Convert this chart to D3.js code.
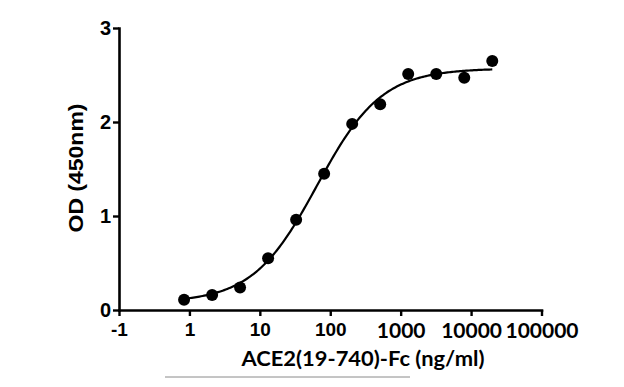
<!DOCTYPE html>
<html>
<head>
<meta charset="utf-8">
<script src="https://cdn.jsdelivr.net/npm/d3@7"></script>
<style>
  body { margin: 0; background: #fff; }
  svg { display: block; }
</style>
</head>
<body>
<div id="chart"></div>
<script>
// ELISA binding data (2.5-fold dilutions)
var concentrations = [0.84, 2.1, 5.24, 13.1, 32.77, 81.92, 204.8, 512, 1280, 3200, 8000, 20000];
var odValues = [0.11, 0.16, 0.24, 0.55, 0.96, 1.45, 1.98, 2.19, 2.51, 2.51, 2.47, 2.65];

// four parameter logistic fit: bottom, top, EC50, hill slope
var fitParams = [0.08, 2.57, 65, 0.95];

var xTickValues = [0.1, 1, 10, 100, 1000, 10000, 100000];
var xTickLabels = ["-1", "1", "10", "100", "1000", "10000", "100000"];
var yTickValues = [0, 1, 2, 3];

var width = 624, height = 387;

var svg = d3.select("#chart").append("svg")
    .attr("width", width)
    .attr("height", height);

var x = d3.scaleLog().domain([0.1, 100000]).range([119, 541.5]);
var y = d3.scaleLinear().domain([0, 3]).range([310, 28]);

// x axis
var xAxis = svg.append("g")
    .attr("transform", "translate(0," + y(0) + ")")
    .call(d3.axisBottom(x)
        .tickValues(xTickValues)
        .tickSize(6)
        .tickSizeOuter(0)
        .tickPadding(7)
        .tickFormat(function(d, i) { return xTickLabels[i]; }));

xAxis.select(".domain").style("stroke", "#000").style("stroke-width", "2.6px").style("stroke-linecap", "square");
xAxis.selectAll(".tick line").style("stroke", "#000").style("stroke-width", "2.4px");
xAxis.selectAll(".tick text")
    .style("fill", "#000")
    .style("font-family", function(d) { return d >= 1000 ? "Lato, 'Open Sans', sans-serif" : "'Liberation Sans', Arial, sans-serif"; })
    .style("font-weight", "bold")
    .style("font-size", function(d) { return d >= 1000 ? "21px" : "19px"; });

// y axis
var yAxis = svg.append("g")
    .attr("transform", "translate(" + x(0.1) + ",0)")
    .call(d3.axisLeft(y)
        .tickValues(yTickValues)
        .tickSize(6)
        .tickSizeOuter(0)
        .tickPadding(2)
        .tickFormat(d3.format("d")));

yAxis.select(".domain").style("stroke", "#000").style("stroke-width", "2.6px").style("stroke-linecap", "square");
yAxis.selectAll(".tick line").style("stroke", "#000").style("stroke-width", "2.4px");
yAxis.selectAll(".tick text")
    .style("fill", "#000")
    .style("font-family", "'Liberation Sans', Arial, sans-serif")
    .style("font-weight", "bold")
    .style("font-size", "20px");

// fitted curve
function logistic(c) {
    var bottom = fitParams[0], top = fitParams[1], ec50 = fitParams[2], hill = fitParams[3];
    return bottom + (top - bottom) / (1 + Math.pow(ec50 / c, hill));
}
var lo = Math.log10(concentrations[0]), hi = Math.log10(concentrations[concentrations.length - 1]);
var curvePts = d3.range(0, 201).map(function(i) {
    var c = Math.pow(10, lo + (hi - lo) * i / 200);
    return [c, logistic(c)];
});

svg.append("path")
    .datum(curvePts)
    .attr("d", d3.line().x(function(d) { return x(d[0]); }).y(function(d) { return y(d[1]); }))
    .style("fill", "none")
    .style("stroke", "#000")
    .style("stroke-width", "2.2px");

// data points
svg.selectAll("circle.pt")
    .data(concentrations)
    .enter().append("circle")
    .attr("class", "pt")
    .attr("cx", function(d) { return x(d); })
    .attr("cy", function(d, i) { return y(odValues[i]); })
    .attr("r", 6)
    .style("fill", "#000");

// axis titles
svg.append("text")
    .attr("transform", "translate(83,168) rotate(-90)")
    .attr("text-anchor", "middle")
    .text("OD (450nm)")
    .style("font-family", "'Liberation Sans', Arial, sans-serif")
    .style("font-weight", "bold")
    .style("font-size", "21px")
    .attr("textLength", 129)
    .attr("lengthAdjust", "spacingAndGlyphs");

svg.append("text")
    .attr("x", 363)
    .attr("y", 366)
    .attr("text-anchor", "middle")
    .text("ACE2(19-740)-Fc (ng/ml)")
    .style("font-family", "Lato, 'Open Sans', sans-serif")
    .style("font-weight", "bold")
    .style("font-size", "20px")
    .attr("textLength", 243)
    .attr("lengthAdjust", "spacingAndGlyphs");

// thin rule under the title
svg.append("line")
    .attr("x1", 165)
    .attr("x2", 410)
    .attr("y1", 377)
    .attr("y2", 377)
    .style("stroke", "#8a8a8a")
    .style("stroke-width", "1px");
</script>
</body>
</html>
